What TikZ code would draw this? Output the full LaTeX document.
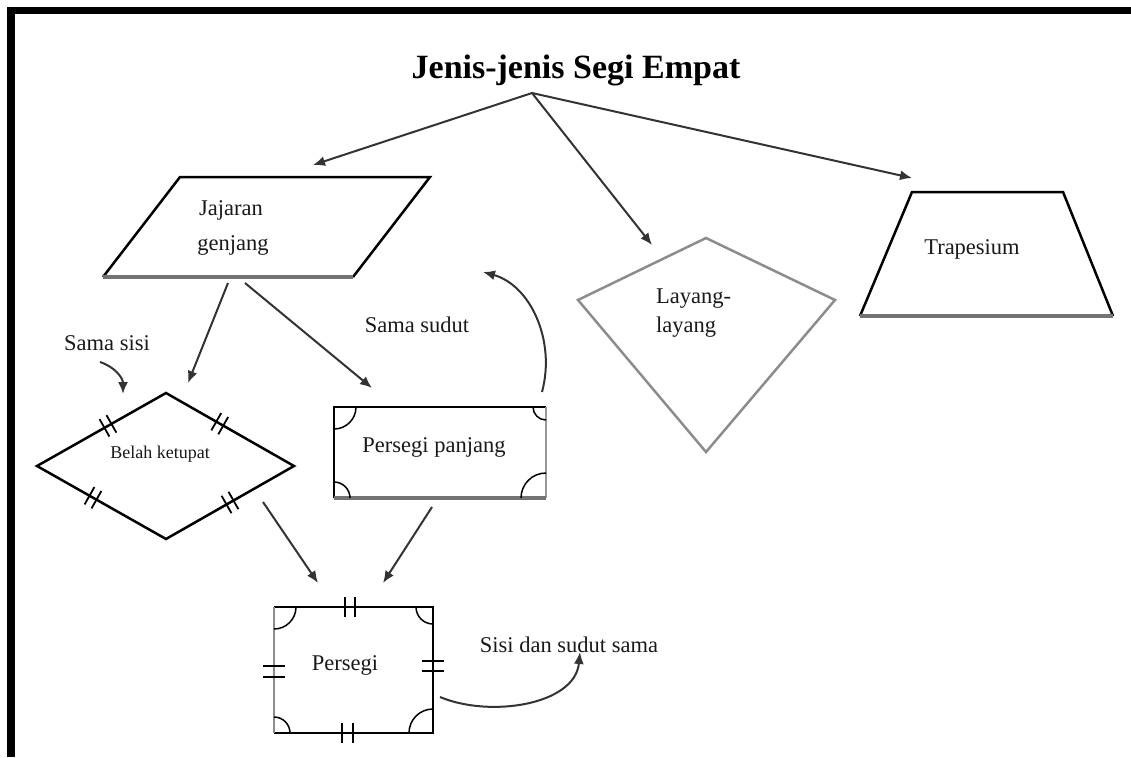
\documentclass[tikz,border=0pt]{standalone}
\usepackage{fontspec}
\setmainfont{Liberation Serif}
\usetikzlibrary{arrows.meta,decorations.markings,calc}
\begin{document}
\begin{tikzpicture}[x=1pt,y=-1pt,
  shapeline/.style={line width=2.5pt, line join=miter},
  conn/.style={line width=2pt, draw=black!80, -{Latex[length=12pt,width=10pt]}},
  lbl/.style={font=\fontsize{22.5}{26}\selectfont, text=black!90, inner sep=0pt, anchor=base},
  angmark/.style={line width=1.5pt},
  tickmark/.style={line width=1.8pt},
  dtick/.style={postaction={decorate,decoration={markings,mark=at position #1 with {\draw[line width=1.8pt] (-4,-10)--(-4,10) (4,-10)--(4,10);}}}}
]
\useasboundingbox (0,0) rectangle (1131,757);
% frame
\draw[line width=7.5pt] (11,757) -- (11,10.75) -- (1131,10.75);

% title
\node[font=\fontsize{34}{38}\selectfont\bfseries, anchor=base, inner sep=0pt] (title) at (576,79) {Jenis-jenis Segi Empat};
\coordinate (hub) at (532,93);

% parallelogram
\coordinate (pTL) at (180,177);
\coordinate (pTR) at (430,177);
\coordinate (pBR) at (353,277);
\coordinate (pBL) at (103,277);
\draw[shapeline] (pBL) -- (pTL) -- (pTR) -- (pBR);
\draw[line width=3.5pt, draw=black!55] (pBR) -- (pBL);
\node[lbl] (jj1) at (231,215) {Jajaran};
\node[lbl] (jj2) at (233,250) {genjang};

% rhombus
\coordinate (rL) at (37,466);
\coordinate (rT) at (166,393);
\coordinate (rR) at (294,466);
\coordinate (rB) at (166,539);
\draw[shapeline] (rL) -- (rT) -- (rR) -- (rB) -- cycle;
\path[dtick=0.55] (rL) -- (rT);
\path[dtick=0.42] (rT) -- (rR);
\path[dtick=0.5] (rR) -- (rB);
\path[dtick=0.566] (rB) -- (rL);
\node[lbl, font=\fontsize{18}{21}\selectfont] (bk) at (160,458) {Belah ketupat};
\node[lbl] (samasisi) at (107,350) {Sama sisi};

% rectangle
\coordinate (qTL) at (334,407);
\coordinate (qTR) at (546,407);
\coordinate (qBR) at (546,498);
\coordinate (qBL) at (334,498);
\draw[shapeline] (qBL) -- (qTL) -- (qTR);
\draw[shapeline, draw=black!40] (qTR) -- (qBR);
\draw[line width=3.5pt, draw=black!55] (qBR) -- (qBL);
\draw[angmark] (334,429) .. controls (346.2,429) and (356,419.2) .. (356,407);
\draw[angmark] (533,407) .. controls (533,414.2) and (538.8,420) .. (546,420);
\draw[angmark] (334,482) .. controls (342.8,482) and (350,489.2) .. (350,498);
\draw[angmark] (521,498) .. controls (521,484.2) and (532.2,473) .. (546,473);
\node[lbl] (pp) at (434,452) {Persegi panjang};
\node[lbl] (samasudut) at (417,332) {Sama sudut};

% square
\coordinate (sTL) at (274,607);
\coordinate (sTR) at (433,607);
\coordinate (sBR) at (433,733);
\coordinate (sBL) at (274,733);
\draw[shapeline] (sTL) -- (sTR) -- (sBR) -- (sBL);
\draw[shapeline, draw=black!45] (sBL) -- (sTL);
\draw[angmark] (274,629) .. controls (286.2,629) and (296,619.2) .. (296,607);
\draw[angmark] (416,607) .. controls (416,616.4) and (423.6,624) .. (433,624);
\draw[angmark] (274,717) .. controls (282.8,717) and (290,724.2) .. (290,733);
\draw[angmark] (409,733) .. controls (409,719.7) and (419.7,709) .. (433,709);
\draw[tickmark] (345,597) -- (345,617) (355,597) -- (355,617);
\draw[tickmark] (342,723) -- (342,743) (353,723) -- (353,743);
\draw[tickmark] (263,666) -- (285,666) (263,677) -- (285,677);
\draw[tickmark] (422,661) -- (444,661) (422,671) -- (444,671);
\node[lbl] (ps) at (345,670) {Persegi};
\node[lbl] (sdss) at (569,652) {Sisi dan sudut sama};

% kite
\coordinate (kT) at (706,238);
\coordinate (kR) at (835,300);
\coordinate (kB) at (706,452);
\coordinate (kL) at (578,300);
\draw[shapeline, draw=black!45] (kT) -- (kR) -- (kB) -- (kL) -- cycle;
\node[lbl, anchor=base west] (ll1) at (656,303) {Layang-};
\node[lbl, anchor=base west] (ll2) at (656,332) {layang};

% trapezium
\coordinate (tTL) at (912,192);
\coordinate (tTR) at (1063,192);
\coordinate (tBR) at (1113,316);
\coordinate (tBL) at (860,316);
\draw[shapeline] (tBL) -- (tTL) -- (tTR) -- (tBR);
\draw[line width=3.5pt, draw=black!55] (tBR) -- (tBL);
\node[lbl] (tp) at (972,254) {Trapesium};

% arrow endpoints
\coordinate (toJJ) at (313,165);
\coordinate (toLL) at (652,245);
\coordinate (toTP) at (912,178);
\coordinate (jjA) at (228,283);
\coordinate (jjB) at (245,283);
\coordinate (toBK) at (188,383);
\coordinate (toPP) at (372,388);
\coordinate (bkOut) at (263,502);
\coordinate (ppOut) at (432,507);
\coordinate (toPS1) at (318,583);
\coordinate (toPS2) at (383,583);
\coordinate (ss1) at (100,362);
\coordinate (ss2) at (123,394);
\coordinate (sd1) at (542,392);
\coordinate (sd2) at (483,272);
\coordinate (sq1) at (440,697);
\coordinate (sq2) at (580,652);

\draw[conn] (hub) -- (toJJ);
\draw[conn] (hub) -- (toLL);
\draw[conn] (hub) -- (toTP);
\draw[conn] (jjA) -- (toBK);
\draw[conn] (jjB) -- (toPP);
\draw[conn] (bkOut) -- (toPS1);
\draw[conn] (ppOut) -- (toPS2);
\draw[conn] (ss1) .. controls (115,367) and (123,378) .. (ss2);
\draw[conn] (sd1) .. controls (556,340) and (530,285) .. (sd2);
\draw[conn] (sq1) .. controls (490,718) and (575,705) .. (sq2);
\end{tikzpicture}
\end{document}
